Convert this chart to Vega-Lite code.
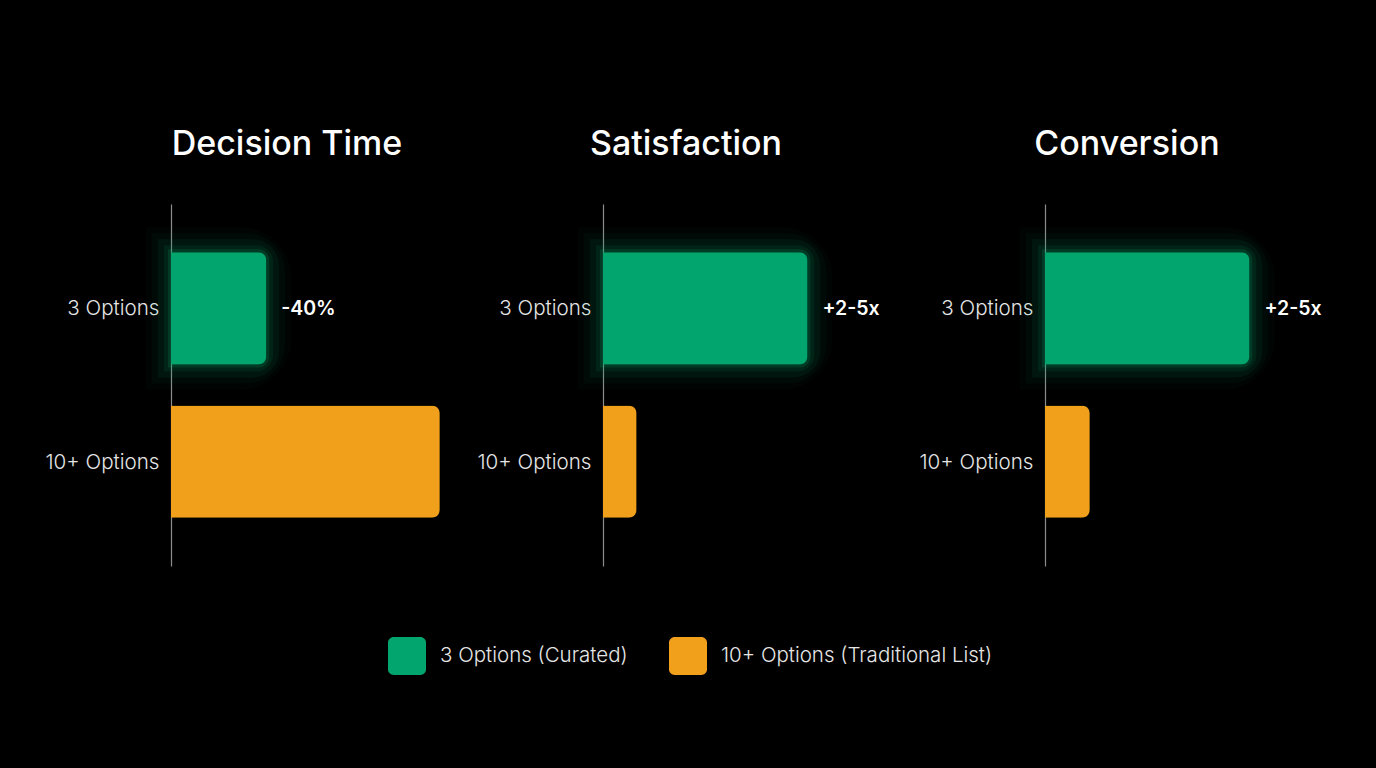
{
  "$schema": "https://vega.github.io/schema/vega-lite/v6.json",
  "background": "#000000",
  "padding": {"left": 45, "top": 128, "right": 51, "bottom": 94},
  "autosize": {"type": "pad"},
  "datasets": {
    "bars": [
      {"metric": "Decision Time", "option": "3 Options", "group": "3 Options (Curated)", "value": 34, "label": "-40%"},
      {"metric": "Decision Time", "option": "10+ Options", "group": "10+ Options (Traditional List)", "value": 96, "label": ""},
      {"metric": "Satisfaction", "option": "3 Options", "group": "3 Options (Curated)", "value": 73, "label": "+2-5x"},
      {"metric": "Satisfaction", "option": "10+ Options", "group": "10+ Options (Traditional List)", "value": 12, "label": ""},
      {"metric": "Conversion", "option": "3 Options", "group": "3 Options (Curated)", "value": 73, "label": "+2-5x"},
      {"metric": "Conversion", "option": "10+ Options", "group": "10+ Options (Traditional List)", "value": 16, "label": ""}
    ]
  },
  "data": {"name": "bars"},
  "spacing": 22,
  "resolve": {"scale": {"color": "shared"}, "legend": {"color": "shared"}},
  "hconcat": [
    {
      "width": 280, "height": 362,
      "title": {"text": "Decision Time", "dx": -24},
      "transform": [{"filter": "datum.metric === 'Decision Time'"}],
      "encoding": {
        "y": {"field": "option", "type": "nominal", "sort": ["3 Options", "10+ Options"], "title": null,
              "scale": {"paddingInner": 0.268, "paddingOuter": 0.314}},
        "x": {"field": "value", "type": "quantitative", "scale": {"domain": [0, 100]}, "axis": null}
      },
      "layer": [
        {"transform": [{"filter": "datum.option === '3 Options'"}], "mark": {"type": "bar", "filled": false, "stroke": "#03A56E", "strokeWidth": 50, "strokeOpacity": 0.03, "cornerRadiusEnd": 26}},
        {"transform": [{"filter": "datum.option === '3 Options'"}], "mark": {"type": "bar", "filled": false, "stroke": "#03A56E", "strokeWidth": 38, "strokeOpacity": 0.045, "cornerRadiusEnd": 20}},
        {"transform": [{"filter": "datum.option === '3 Options'"}], "mark": {"type": "bar", "filled": false, "stroke": "#03A56E", "strokeWidth": 26, "strokeOpacity": 0.07, "cornerRadiusEnd": 14}},
        {"transform": [{"filter": "datum.option === '3 Options'"}], "mark": {"type": "bar", "filled": false, "stroke": "#03A56E", "strokeWidth": 14, "strokeOpacity": 0.1, "cornerRadiusEnd": 10}},
        {"transform": [{"filter": "datum.option === '3 Options'"}], "mark": {"type": "bar", "filled": false, "stroke": "#03A56E", "strokeWidth": 6, "strokeOpacity": 0.18, "cornerRadiusEnd": 8}},
        {"mark": {"type": "bar", "cornerRadiusEnd": 8},
         "encoding": {"color": {"field": "group", "type": "nominal",
           "scale": {"domain": ["3 Options (Curated)", "10+ Options (Traditional List)"], "range": ["#03A56E", "#F0A01B"]},
           "legend": {"orient": "none", "direction": "horizontal", "title": null, "legendX": 217, "legendY": 433}}}},
        {"mark": {"type": "text", "align": "left", "baseline": "middle", "dx": 15, "dy": 1, "fontSize": 19.5, "fontWeight": 600, "font": "Inter", "color": "#ffffff"},
         "encoding": {"text": {"field": "label"}}}
      ]
    },
    {
      "width": 294, "height": 362,
      "title": {"text": "Satisfaction", "dx": -64},
      "transform": [{"filter": "datum.metric === 'Satisfaction'"}],
      "encoding": {
        "y": {"field": "option", "type": "nominal", "sort": ["3 Options", "10+ Options"], "title": null,
              "scale": {"paddingInner": 0.268, "paddingOuter": 0.314}},
        "x": {"field": "value", "type": "quantitative", "scale": {"domain": [0, 105]}, "axis": null}
      },
      "layer": [
        {"transform": [{"filter": "datum.option === '3 Options'"}], "mark": {"type": "bar", "filled": false, "stroke": "#03A56E", "strokeWidth": 50, "strokeOpacity": 0.03, "cornerRadiusEnd": 26}},
        {"transform": [{"filter": "datum.option === '3 Options'"}], "mark": {"type": "bar", "filled": false, "stroke": "#03A56E", "strokeWidth": 38, "strokeOpacity": 0.045, "cornerRadiusEnd": 20}},
        {"transform": [{"filter": "datum.option === '3 Options'"}], "mark": {"type": "bar", "filled": false, "stroke": "#03A56E", "strokeWidth": 26, "strokeOpacity": 0.07, "cornerRadiusEnd": 14}},
        {"transform": [{"filter": "datum.option === '3 Options'"}], "mark": {"type": "bar", "filled": false, "stroke": "#03A56E", "strokeWidth": 14, "strokeOpacity": 0.1, "cornerRadiusEnd": 10}},
        {"transform": [{"filter": "datum.option === '3 Options'"}], "mark": {"type": "bar", "filled": false, "stroke": "#03A56E", "strokeWidth": 6, "strokeOpacity": 0.18, "cornerRadiusEnd": 8}},
        {"mark": {"type": "bar", "cornerRadiusEnd": 8},
         "encoding": {"color": {"field": "group", "type": "nominal",
           "scale": {"domain": ["3 Options (Curated)", "10+ Options (Traditional List)"], "range": ["#03A56E", "#F0A01B"]},
           "legend": {"orient": "none", "direction": "horizontal", "title": null, "legendX": 217, "legendY": 433}}}},
        {"mark": {"type": "text", "align": "left", "baseline": "middle", "dx": 15, "dy": 1, "fontSize": 19.5, "fontWeight": 600, "font": "Inter", "color": "#ffffff"},
         "encoding": {"text": {"field": "label"}}}
      ]
    },
    {
      "width": 280, "height": 362,
      "title": {"text": "Conversion", "dx": -58},
      "transform": [{"filter": "datum.metric === 'Conversion'"}],
      "encoding": {
        "y": {"field": "option", "type": "nominal", "sort": ["3 Options", "10+ Options"], "title": null,
              "scale": {"paddingInner": 0.268, "paddingOuter": 0.314}},
        "x": {"field": "value", "type": "quantitative", "scale": {"domain": [0, 100]}, "axis": null}
      },
      "layer": [
        {"transform": [{"filter": "datum.option === '3 Options'"}], "mark": {"type": "bar", "filled": false, "stroke": "#03A56E", "strokeWidth": 50, "strokeOpacity": 0.03, "cornerRadiusEnd": 26}},
        {"transform": [{"filter": "datum.option === '3 Options'"}], "mark": {"type": "bar", "filled": false, "stroke": "#03A56E", "strokeWidth": 38, "strokeOpacity": 0.045, "cornerRadiusEnd": 20}},
        {"transform": [{"filter": "datum.option === '3 Options'"}], "mark": {"type": "bar", "filled": false, "stroke": "#03A56E", "strokeWidth": 26, "strokeOpacity": 0.07, "cornerRadiusEnd": 14}},
        {"transform": [{"filter": "datum.option === '3 Options'"}], "mark": {"type": "bar", "filled": false, "stroke": "#03A56E", "strokeWidth": 14, "strokeOpacity": 0.1, "cornerRadiusEnd": 10}},
        {"transform": [{"filter": "datum.option === '3 Options'"}], "mark": {"type": "bar", "filled": false, "stroke": "#03A56E", "strokeWidth": 6, "strokeOpacity": 0.18, "cornerRadiusEnd": 8}},
        {"mark": {"type": "bar", "cornerRadiusEnd": 8},
         "encoding": {"color": {"field": "group", "type": "nominal",
           "scale": {"domain": ["3 Options (Curated)", "10+ Options (Traditional List)"], "range": ["#03A56E", "#F0A01B"]},
           "legend": {"orient": "none", "direction": "horizontal", "title": null, "legendX": 217, "legendY": 433}}}},
        {"mark": {"type": "text", "align": "left", "baseline": "middle", "dx": 15, "dy": 1, "fontSize": 19.5, "fontWeight": 600, "font": "Inter", "color": "#ffffff"},
         "encoding": {"text": {"field": "label"}}}
      ]
    }
  ],
  "config": {
    "view": {"stroke": null},
    "font": "Inter",
    "title": {"font": "Inter", "fontSize": 34, "fontWeight": 500, "color": "#ffffff", "anchor": "middle", "offset": 42},
    "axisY": {
      "domain": true, "domainColor": "#8c8c8c", "domainWidth": 1.2,
      "ticks": false, "grid": false,
      "labelFont": "Inter", "labelFontSize": 20.6, "labelFontWeight": 300, "labelColor": "#e6e6e6",
      "labelPadding": 12, "labelOffset": 1, "minExtent": 126, "maxExtent": 126
    },
    "legend": {
      "labelFont": "Inter", "labelFontSize": 20.5, "labelFontWeight": 300, "labelColor": "#e6e6e6", "labelLimit": 400,
      "symbolType": "M-0.7,-1 H0.7 A0.3,0.3 0 0 1 1,-0.7 V0.7 A0.3,0.3 0 0 1 0.7,1 H-0.7 A0.3,0.3 0 0 1 -1,0.7 V-0.7 A0.3,0.3 0 0 1 -0.7,-1 Z",
      "symbolSize": 1444, "symbolStrokeWidth": 0, "symbolOpacity": 1,
      "columnPadding": 41, "labelOffset": 14, "padding": 0
    }
  }
}
